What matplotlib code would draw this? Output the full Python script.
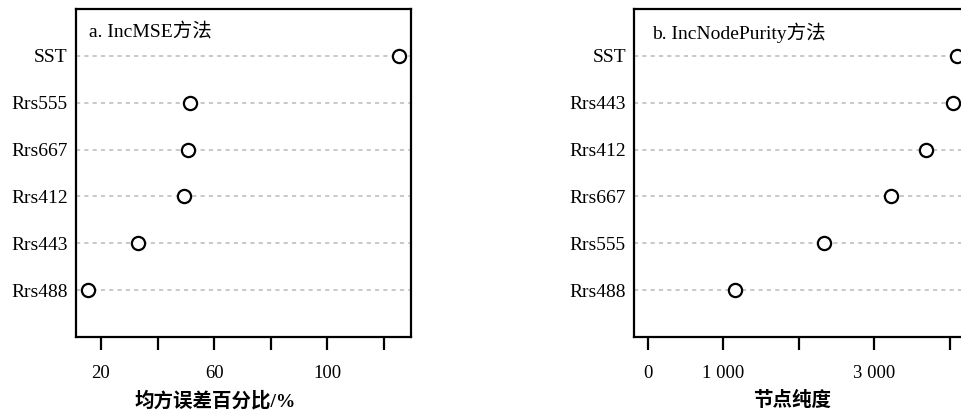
import matplotlib
matplotlib.use("Agg")
import matplotlib.pyplot as plt

plt.rcParams['font.family'] = ['Liberation Serif', 'Noto Sans CJK SC']

# Panel a: IncMSE (top to bottom)
vars_a = ["SST", "Rrs555", "Rrs667", "Rrs412", "Rrs443", "Rrs488"]
vals_a = [125.1, 51.5, 50.8, 49.3, 33.2, 15.5]
ticks_a = [20, 40, 60, 80, 100, 120]
ticklabels_a = ["20", "", "60", "", "100", ""]

# Panel b: IncNodePurity (top to bottom)
vars_b = ["SST", "Rrs443", "Rrs412", "Rrs667", "Rrs555", "Rrs488"]
vals_b = [4098, 4040, 3691, 3218, 2338, 1158]
ticks_b = [0, 1000, 2000, 3000, 4000]
ticklabels_b = ["0", "1 000", "", "3 000", ""]

W, H = 962, 412
fig = plt.figure(figsize=(W / 100, H / 100), dpi=100)

def panel(rect, names, vals, ticks, tlabels, xlim, title, xlabel, title_x, xlabel_x):
    ax = fig.add_axes(rect)
    n = len(names)
    ys = list(range(n, 0, -1))
    for y in ys:
        ax.axhline(y, color='#c4c4c4', lw=1.3, ls=(0, (2.3, 2.3)), zorder=1)
    ax.plot(vals, ys, ls='none', marker='o', ms=9.5, mfc='white', mec='black',
            mew=1.6, zorder=3, clip_on=False)
    ax.set_ylim(0, n + 1)
    ax.set_xlim(*xlim)
    ax.set_yticks(ys)
    ax.set_yticklabels(names, fontsize=14)
    ax.tick_params(axis='y', length=0, pad=6)
    ax.set_xticks(ticks)
    ax.set_xticklabels(tlabels, fontsize=13.5)
    ax.tick_params(axis='x', direction='out', length=9.5, width=1.6, pad=11)
    for s in ax.spines.values():
        s.set_linewidth(1.6)
    ax.text(title_x, 0.927, title, transform=ax.transAxes, fontsize=14,
            ha='left', va='center')
    ax.set_xlabel(xlabel, fontsize=14, fontweight='bold')
    ax.xaxis.set_label_coords(xlabel_x, -0.165)
    return ax

wa = 335 / W
ha = 328 / H
bot = (H - 337) / H
panel([76 / W, bot, wa, ha], vars_a, vals_a, ticks_a, ticklabels_a,
      (11.2, 129.5), "a. IncMSE方法", "均方误差百分比/%", 0.039, 0.415)
panel([634.3 / W, bot, wa, ha], vars_b, vals_b, ticks_b, ticklabels_b,
      (-178, 4261), "b. IncNodePurity方法", "节点纯度", 0.052, 0.47)

fig.savefig("out.png", dpi=100)
